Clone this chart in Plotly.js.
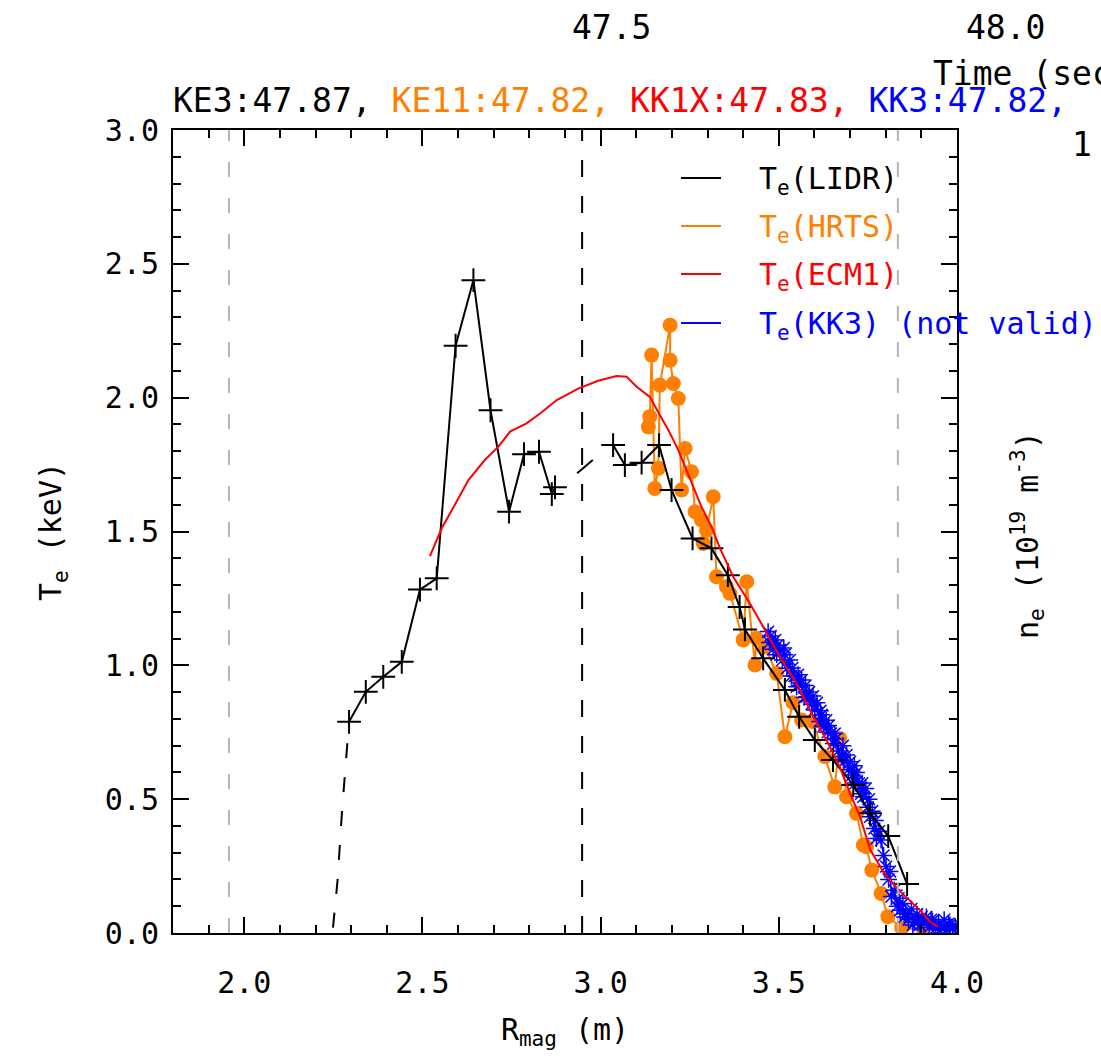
<!DOCTYPE html>
<html>
<head>
<meta charset="utf-8">
<script src="https://cdn.plot.ly/plotly-3.0.1.min.js"></script>
<style>html,body{margin:0;padding:0;background:#fff;}#chart{width:1101px;height:1059px;}</style>
</head>
<body>
<div id="chart"></div>
<script>
// ---- data ----
const lidrR  = [2.294,2.341,2.390,2.442,2.493,2.540,2.593,2.643,2.691,2.743,2.785,2.827,2.863,2.872,null,
                3.035,3.068,3.115,3.164,3.199,3.258,3.311,3.357,3.390,3.405,3.456,3.517,3.557,3.601,3.652,3.709,3.756,3.807,3.860];
const lidrTe = [0.789,0.901,0.957,1.013,1.283,1.325,2.194,2.439,1.953,1.574,1.789,1.798,1.640,1.665,null,
                1.823,1.748,1.757,1.823,1.655,1.474,1.437,1.337,1.218,1.134,1.026,0.908,0.808,0.721,0.646,0.553,0.447,0.362,0.183];
const lidrExtR  = [2.249,2.262,2.274,2.294];
const lidrExtTe = [0.02,0.20,0.45,0.789];
const lidrGapR  = [2.934,2.978];
const lidrGapTe = [1.718,1.767];

const hrtsR  = [3.134,3.138,3.143,3.152,3.162,3.166,3.195,3.195,3.204,3.218,3.227,3.237,3.255,3.265,3.283,3.288,3.297,3.316,
                3.325,3.353,3.363,3.400,3.410,3.433,3.437,3.461,3.494,3.517,3.540,3.564,3.595,3.629,3.657,3.671,3.690,3.718,3.737,
                3.746,3.761,3.787,3.806,3.845,3.906];
const hrtsTe = [1.891,1.929,2.159,1.661,1.736,2.047,2.271,2.140,2.053,1.997,1.655,1.810,1.723,1.574,1.543,1.455,1.505,1.630,
                1.331,1.294,1.269,1.095,1.312,1.001,1.101,1.069,0.970,0.733,0.860,0.796,0.790,0.659,0.546,0.727,0.509,0.447,0.329,
                0.322,0.235,0.148,0.061,0.019,0.011];

const ecmR  = [2.521,2.554,2.601,2.629,2.675,2.713,2.746,2.792,2.830,2.877,2.937,2.993,3.045,3.073,3.101,3.138,3.166,3.190,
               3.218,3.241,3.260,3.283,3.311,3.335,3.372,3.419,3.456,3.503,3.550,3.597,3.639,3.671,3.700,3.728,3.757,3.796,
               3.836,3.900,3.924,3.946];
const ecmTe = [1.408,1.512,1.624,1.692,1.767,1.817,1.873,1.904,1.941,1.991,2.034,2.063,2.081,2.078,2.041,2.003,1.935,1.879,
               1.804,1.730,1.667,1.592,1.518,1.437,1.331,1.231,1.144,1.032,0.932,0.808,0.708,0.621,0.522,0.434,0.310,0.223,
               0.161,0.080,0.042,0.024];

const kk3R  = [3.470,3.474,3.477,3.484,3.490,3.494,3.497,3.503,3.510,3.514,3.517,3.523,3.531,3.535,3.538,3.544,3.550,3.554,
               3.557,3.564,3.571,3.575,3.578,3.585,3.592,3.596,3.601,3.607,3.614,3.617,3.620,3.625,3.633,3.637,3.640,3.646,
               3.653,3.657,3.660,3.667,3.676,3.680,3.683,3.690,3.695,3.700,3.706,3.712,3.715,3.718,3.725,3.731,3.734,3.737,
               3.744,3.750,3.753,3.756,3.762,3.768,3.771,3.774,3.781,3.787,3.794,3.801,3.808,3.812,3.816,3.824,3.832,3.836,
               3.840,3.848,3.852,3.856,3.864,3.872,3.876,3.880,3.888,3.896,3.901,3.906,3.914,3.922,3.927,3.931,3.940,3.948,
               3.952,3.956,3.964,3.972,3.976,3.980,3.988,3.995,4.000];
const kk3Te = [1.126,1.085,1.110,1.060,1.095,1.040,1.075,1.057,1.020,1.065,1.040,0.989,1.020,0.960,0.990,0.960,0.920,0.965,
               0.925,0.945,0.880,0.925,0.883,0.900,0.855,0.885,0.833,0.860,0.790,0.830,0.815,0.771,0.795,0.750,0.775,0.745,
               0.708,0.745,0.725,0.680,0.659,0.700,0.640,0.665,0.610,0.640,0.590,0.625,0.560,0.600,0.559,0.520,0.560,0.509,
               0.540,0.470,0.500,0.434,0.455,0.390,0.420,0.353,0.380,0.347,0.290,0.248,0.200,0.230,0.136,0.160,0.100,0.130,
               0.085,0.110,0.060,0.073,0.050,0.090,0.030,0.040,0.070,0.030,0.060,0.036,0.060,0.020,0.050,0.045,0.017,0.035,
               0.010,0.017,0.050,0.012,0.035,0.030,0.015,0.025,0.017];

const refGrayR  = [1.957, 3.834];
const refBlackR = [2.948];
const yLimits   = [0, 3];

const titleParts  = ["KE3:47.87, ", "KE11:47.82, ", "KK1X:47.83, ", "KK3:47.82,"];
const titleColors = ["#000000", "#ff8000", "#ff0000", "#0000ff"];
const legendLabels = ["T<sub>e</sub>(LIDR)", "T<sub>e</sub>(HRTS)", "T<sub>e</sub>(ECM1)", "T<sub>e</sub>(KK3) (not valid)"];
const legendColors = ["#000000", "#ff8000", "#ff0000", "#0000ff"];
const timeTickLabels = ["47.5", "48.0"];

// ---- styling ----
const FONT = '"DejaVu Sans Mono", monospace';
const ORANGE = '#ff8000';

const traces = [];
refGrayR.forEach(r => traces.push({x:[r,r], y:yLimits, xaxis:'x2', yaxis:'y2', mode:'lines', line:{color:'#b4b4b4', width:2, dash:'15px,21px'}, hoverinfo:'skip', showlegend:false}));
refBlackR.forEach(r => traces.push({x:[r,r], y:yLimits, mode:'lines', line:{color:'#000000', width:2, dash:'17px,19px'}, hoverinfo:'skip', showlegend:false}));

traces.push({x:hrtsR, y:hrtsTe, mode:'lines+markers', line:{color:ORANGE, width:2}, marker:{symbol:'circle', size:15, color:ORANGE}, showlegend:false});
traces.push({x:kk3R, y:kk3Te, mode:'lines+markers', line:{color:'#0000ff', width:1.5}, marker:{symbol:'asterisk-open', size:14, color:'#0000ff', line:{color:'#0000ff', width:1.5}}, showlegend:false});
traces.push({x:lidrExtR, y:lidrExtTe, mode:'lines', line:{color:'#000000', width:2, dash:'15px,19px'}, showlegend:false});
traces.push({x:lidrGapR, y:lidrGapTe, mode:'lines', line:{color:'#000000', width:2}, showlegend:false});
traces.push({x:lidrR, y:lidrTe, mode:'lines+markers', connectgaps:false, line:{color:'#000000', width:2}, marker:{symbol:'cross-thin-open', size:17, color:'#000000', line:{color:'#000000', width:2}}, showlegend:false});
traces.push({x:ecmR, y:ecmTe, mode:'lines', line:{color:'#ff0000', width:2}, showlegend:false});

// layout helpers (pixel -> paper)
const L = 173, R = 957, T = 130, B = 933;
const px = v => (v - L) / (R - L);
const py = v => (B - v) / (B - T);

const annotations = [];
annotations.push({xref:'paper', yref:'paper', x:px(171), y:py(100), xanchor:'left', yanchor:'middle', showarrow:false,
  text: titleParts.map((t,i)=>'<span style="color:'+titleColors[i]+'">'+t+'</span>').join(''),
  font:{family:FONT, size:33, color:'#000'}});
annotations.push({xref:'paper', yref:'paper', x:px(611), y:py(28), xanchor:'center', yanchor:'middle', showarrow:false, text:timeTickLabels[0], font:{family:FONT, size:33, color:'#000'}});
annotations.push({xref:'paper', yref:'paper', x:px(1005), y:py(28), xanchor:'center', yanchor:'middle', showarrow:false, text:timeTickLabels[1], font:{family:FONT, size:33, color:'#000'}});
annotations.push({xref:'paper', yref:'paper', x:px(931), y:py(74), xanchor:'left', yanchor:'middle', showarrow:false, text:'Time (sec)', font:{family:FONT, size:33, color:'#000'}});
annotations.push({xref:'paper', yref:'paper', x:px(1070), y:py(145), xanchor:'left', yanchor:'middle', showarrow:false, text:'1', font:{family:FONT, size:33, color:'#000'}});
annotations.push({xref:'paper', yref:'paper', x:px(1027), y:py(535), xanchor:'center', yanchor:'middle', showarrow:false, textangle:-90,
  text:'n<sub>e</sub> (10<sup>19</sup> m<sup>-3</sup>)', font:{family:FONT, size:30, color:'#000'}});

const legendY = [178, 226, 274, 323];
const shapes = [];
legendLabels.forEach((lab, i) => {
  shapes.push({type:'line', xref:'paper', yref:'paper', x0:px(681), x1:px(721), y0:py(legendY[i]), y1:py(legendY[i]), line:{color:legendColors[i], width:2}});
  annotations.push({xref:'paper', yref:'paper', x:px(757), y:py(legendY[i]+2), xanchor:'left', yanchor:'middle', showarrow:false,
    text:lab, font:{family:FONT, size:30, color:legendColors[i]}});
});

const axisCommon = {
  showgrid:false, zeroline:false, showline:true, linecolor:'#000', linewidth:2,
  ticks:'inside', ticklen:16, tickwidth:2, tickcolor:'#000',
  tickformat:'.1f', dtick:0.5, tick0:0,
  tickfont:{family:FONT, size:30, color:'#000'},
  minor:{dtick:0.1, tick0:0, ticks:'inside', ticklen:8, tickwidth:2, tickcolor:'#000', showgrid:false}
};

const layout = {
  width:1101, height:1059,
  margin:{l:L, r:1101-R, t:T, b:1059-B, autoexpand:false},
  paper_bgcolor:'#fff', plot_bgcolor:'#fff',
  showlegend:false,
  xaxis: Object.assign({}, axisCommon, {range:[1.8, 4.0], ticklabelstandoff:22,
    title:{text:'R<sub>mag</sub> (m)', font:{family:FONT, size:30, color:'#000'}, standoff:20}}),
  yaxis: Object.assign({}, axisCommon, {range:yLimits, ticklabelstandoff:6,
    title:{text:'T<sub>e</sub> (keV)', font:{family:FONT, size:30, color:'#000'}, standoff:34}}),
  xaxis2: Object.assign({}, axisCommon, {range:[1.8, 4.0], overlaying:'x', side:'top', matches:'x', showticklabels:false}),
  yaxis2: Object.assign({}, axisCommon, {range:yLimits, overlaying:'y', side:'right', matches:'y', showticklabels:false}),
  annotations: annotations,
  shapes: shapes
};

Plotly.newPlot('chart', traces, layout, {staticPlot:true, displayModeBar:false}).then(() => {
  // make sure the axis tick marks drawn by Plotly sit on top of every other layer
  const svg = document.querySelector('#chart svg.main-svg');
  if (!svg) return;
  const g = document.createElementNS('http://www.w3.org/2000/svg', 'g');
  document.querySelectorAll('#chart path.xtick, #chart path.ytick, #chart path.x2tick, #chart path.y2tick').forEach(p => {
    const c = p.cloneNode(true);
    c.style.stroke = '#000'; c.style.strokeWidth = '2px'; c.style.strokeOpacity = '1';
    g.appendChild(c);
  });
  svg.appendChild(g);
});
</script>
</body>
</html>
